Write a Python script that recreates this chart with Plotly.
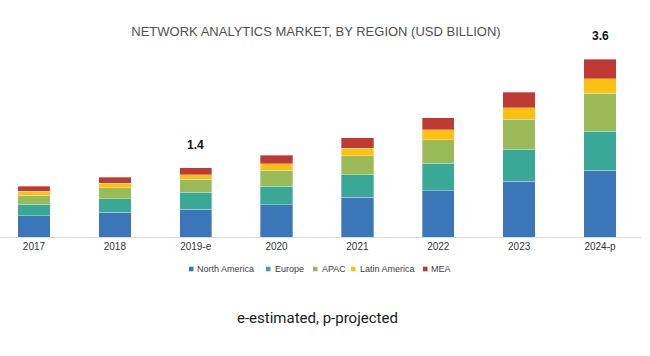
import plotly.graph_objects as go

years = ["2017", "2018", "2019-e", "2020", "2021", "2022", "2023", "2024-p"]
north_america = [0.43, 0.50, 0.56, 0.66, 0.81, 0.94, 1.13, 1.36]
europe = [0.24, 0.28, 0.35, 0.37, 0.45, 0.56, 0.65, 0.79]
apac = [0.18, 0.22, 0.26, 0.33, 0.39, 0.48, 0.61, 0.77]
latin_america = [0.08, 0.09, 0.10, 0.13, 0.15, 0.20, 0.24, 0.30]
mea = [0.10, 0.12, 0.14, 0.17, 0.22, 0.24, 0.31, 0.39]
series_names = ["North America", "Europe", "APAC", "Latin America", "MEA"]
label_years = ["2019-e", "2024-p"]
label_values = [1.4, 3.6]

colors = ["#3a76b8", "#3aa896", "#9bbb59", "#fdc010", "#be3a32"]
series_values = [north_america, europe, apac, latin_america, mea]

W, H = 650, 356
ML, MR, MT, MB = 0, 9, 50, 119
PW = W - ML - MR
PH = H - MT - MB


def px_x(x):
    return (x - ML) / PW


def px_y(y):
    return (H - MB - y) / PH


fig = go.Figure()
for name, vals, col in zip(series_names, series_values, colors):
    fig.add_trace(go.Bar(
        x=years, y=vals, name=name,
        marker=dict(color=col, line=dict(color="rgba(255,255,255,0.55)", width=0.6)),
        showlegend=False,
    ))

totals = [sum(v) for v in zip(*series_values)]
for ly, lv in zip(label_years, label_values):
    i = years.index(ly)
    fig.add_annotation(
        x=ly, y=totals[i], text=f"<b>{lv}</b>", showarrow=False,
        yanchor="middle", yshift=23,
        font=dict(family="Liberation Sans, Arial, sans-serif", size=12, color="#111111"),
    )

# custom compact legend
legend_sq = [189, 266, 313, 351, 423]
legend_tx = [195, 272.5, 320, 357.5, 429]
legend_y = 269
for name, col, sx, tx in zip(series_names, colors, legend_sq, legend_tx):
    fig.add_shape(
        type="rect", xref="paper", yref="paper",
        x0=px_x(sx), x1=px_x(sx + 4.5), y0=px_y(legend_y + 2.3), y1=px_y(legend_y - 2.3),
        fillcolor=col, line=dict(width=0),
    )
    fig.add_annotation(
        xref="paper", yref="paper", x=px_x(tx), y=px_y(legend_y),
        text=name, showarrow=False, xanchor="left", yanchor="middle",
        font=dict(family="Liberation Sans, Arial, sans-serif", size=9, color="#404040"),
    )

fig.add_annotation(
    xref="paper", yref="paper", x=px_x(317), y=px_y(318),
    text="e-estimated, p-projected", showarrow=False, xanchor="center", yanchor="middle",
    font=dict(family="Roboto, Arial, sans-serif", size=15, color="#1a1a1a"),
)

fig.update_layout(
    width=W, height=H,
    margin=dict(l=ML, r=MR, t=MT, b=MB),
    paper_bgcolor="white", plot_bgcolor="white",
    barmode="stack", bargap=0.6,
    title=dict(
        text="NETWORK ANALYTICS MARKET, BY REGION (USD BILLION)",
        x=316 / W, xanchor="center", y=1 - 31 / H, yanchor="middle",
        font=dict(family="Liberation Sans, Arial, sans-serif", size=13, color="#505050"),
    ),
    xaxis=dict(
        type="category", range=[-0.42, 7.507],
        showline=True, linecolor="#d9d9d9", linewidth=1,
        showgrid=False, ticks="",
        tickfont=dict(family="Liberation Sans, Arial, sans-serif", size=10, color="#333333"),
    ),
    yaxis=dict(range=[0, 3.80], visible=False, showgrid=False, zeroline=False),
)

fig.write_html(
    "out.html",
    config={"displayModeBar": False},
    post_script="document.body.style.margin='0px';document.body.style.padding='0px';",
)
